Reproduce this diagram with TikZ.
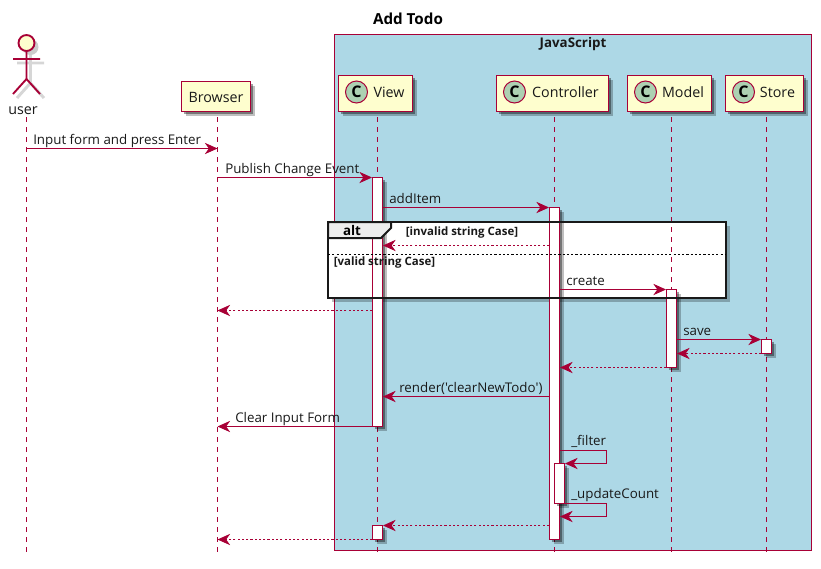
\documentclass[tikz,border=0pt]{standalone}
\usepackage{fontspec}
\setmainfont{Open Sans}
\newfontfamily\plainf{Open Sans}
\usetikzlibrary{arrows.meta,shadows,calc}
\definecolor{pu}{HTML}{A80036}
\definecolor{pufill}{HTML}{FEFECE}
\definecolor{jsblue}{HTML}{ADD8E6}
\definecolor{cfill}{HTML}{ADD1B2}
\tikzset{
  x=0.75pt,y=-0.75pt,
  softshadow/.style={drop shadow={shadow xshift=3.2pt,shadow yshift=-3.2pt,opacity=.25,fill=black},drop shadow={shadow xshift=2.2pt,shadow yshift=-2.2pt,opacity=.38,fill=black}},
  partbox/.style={draw=pu,fill=pufill,line width=1.1pt,inner sep=0pt,softshadow},
  partlabel/.style={inner sep=0pt,anchor=base,font=\fontsize{10.7pt}{12pt}\selectfont,text=black!90},
  cbadge/.style={circle,draw=pu,fill=cfill,line width=0.75pt,minimum size=16.5pt,inner sep=0pt,font=\fontsize{12pt}{12pt}\bfseries\selectfont},
  lifeline/.style={draw=pu,line width=0.75pt,dash pattern=on 3.75pt off 3.75pt},
  actbox/.style={draw=pu,fill=white,line width=0.75pt,inner sep=0pt,softshadow},
  msg/.style={draw=pu,line width=0.75pt,-{Stealth[length=9.5pt,width=8.5pt,inset=3pt,fill=pu]}},
  ret/.style={msg,dash pattern=on 1.6pt off 1.6pt},
  msglabel/.style={inner sep=0pt,anchor=base west,font=\fontsize{10pt}{12pt}\selectfont,text=black!90},
  guard/.style={inner sep=0pt,anchor=base west,font=\fontsize{8.6pt}{10pt}\bfseries\selectfont,text=black!90},
}
\newcommand{\activ}[4]{%
  \pgfmathsetlengthmacro{\aw}{10*0.75pt}%
  \pgfmathsetlengthmacro{\ah}{(#4-#3)*0.75pt}%
  \node[actbox,minimum width=\aw,minimum height=\ah] (#1) at (#2,{(#3+#4)/2}) {};}
\newcommand{\pbox}[6]{%
  \pgfmathsetlengthmacro{\aw}{(#4-#3)*0.75pt}%
  \pgfmathsetlengthmacro{\ah}{(#6-#5)*0.75pt}%
  \node[partbox,minimum width=\aw,minimum height=\ah] (#1) at ({(#3+#4)/2},{(#5+#6)/2}) {#2};}
\begin{document}
\begin{tikzpicture}
\useasboundingbox[fill=white] (0,0) rectangle (821,568);
% JavaScript box
\node[inner sep=0pt,draw=pu,fill=jsblue,line width=0.75pt,minimum width=357.75pt,minimum height=387pt] (jsbox) at (573,292.5) {};
\node[inner sep=0pt,anchor=base,font=\fontsize{10pt}{10pt}\bfseries\selectfont,text=black!90] (jstitle) at (573,47) {JavaScript};
\node[inner sep=0pt,anchor=base,font=\fontsize{11.4pt}{12pt}\bfseries\selectfont] (title) at (408,24) {Add Todo};
% lifeline anchors
\coordinate (lu) at (26.5,117);
\coordinate (lb) at (217.5,117);
\coordinate (lv) at (377.5,117);
\coordinate (lc) at (554.5,117);
\coordinate (lm) at (671.5,117);
\coordinate (ls) at (766.5,117);
% actor
\begin{scope}[shift={(4,4)},draw=black,opacity=.16,line width=2.2pt]
  \draw (26.5,51) -- (26.5,79) (13,59) -- (40,59) (13,94) -- (26.5,79) -- (40,94);
\end{scope}
\fill[black,opacity=.2] (30.5,47) circle (8);
\node[circle,draw=pu,fill=pufill,line width=1.4pt,minimum size=12pt,inner sep=0pt] (uhead) at (26.5,43) {};
\draw[pu,line width=1.4pt] (uhead.south) -- (26.5,79) (13,59) -- (40,59) (13,94) -- (26.5,79) -- (40,94);
\node[partlabel] (user) at (23,114) {user};
% participants
\pbox{browser}{}{181.5}{250.5}{81.5}{111.5}
\node[partlabel] (browsertext) at (216,102) {Browser};
\pbox{view}{}{338.5}{412.5}{75.5}{111.5}
\pbox{controller}{}{496.5}{608.5}{75.5}{111.5}
\pbox{modelb}{}{627.5}{711.5}{75.5}{111.5}
\pbox{storeb}{}{725.5}{803.5}{75.5}{111.5}
\node[cbadge] (cv) at (356.5,92) {C};
\node[cbadge] (cc) at (514.5,92) {C};
\node[cbadge] (cm) at (645.5,92) {C};
\node[cbadge] (cs) at (743.5,92) {C};
\node[partlabel] (tv) at (389,97) {View};
\node[partlabel] (tc) at (565.5,97) {Controller};
\node[partlabel] (tm) at (683,97) {Model};
\node[partlabel] (ts) at (777.5,97) {Store};
% alt frame body
\fill[black,opacity=.25] (332,226) rectangle (729.5,301.5);
\fill[white] (328,222) rectangle (725.5,298);
% lifelines
\foreach \l in {lu,lb,lv,lc,lm,ls} \draw[lifeline] (\l) -- (\l |- 0,557);
% activations
\activ{av1}{377.5}{177.5}{426.5}
\activ{ac1}{554.5}{207.5}{539.5}
\activ{am}{671.5}{289.5}{367.5}
\activ{as}{766.5}{339.5}{353.5}
\activ{ac2}{559.5}{463.5}{503.5}
\activ{av2}{377.5}{525.5}{539.5}
% alt frame
\draw[black!90,line width=1.5pt,fill=black!7] (328,222) -- (391,222) -- (391,228) -- (381,238) -- (328,238) -- cycle;
\draw[black!90,line width=1.5pt] (328,222) rectangle (725.5,298);
\draw[black,line width=0.75pt,dash pattern=on 1.6pt off 1.6pt] (328,254.5) -- (725.5,254.5);
\node[inner sep=0pt,anchor=base,font=\fontsize{10pt}{10pt}\bfseries\selectfont] (alt) at (352,235) {alt};
\node[guard] (g1) at (405.5,235) {[invalid string Case]};
\node[guard] (g2) at (333.5,265) {[valid string Case]};
% messages
\draw[msg] (lu |- 0,148.5) -- (lb |- 0,148.5);
\node[msglabel] (m1) at (33,144) {Input form and press Enter};
\draw[msg] (lb |- 0,177.5) -- (av1.west |- 0,177.5);
\node[msglabel] (m2) at (225,173) {Publish Change Event};
\draw[msg] (av1.east |- 0,207.5) -- (ac1.west |- 0,207.5);
\node[msglabel] (m3) at (389,203) {addItem};
\draw[ret] (ac1.west |- 0,245.5) -- (av1.east |- 0,245.5);
\draw[msg] (ac1.east |- 0,289.5) -- (am.west |- 0,289.5);
\node[msglabel] (m4) at (566,285) {create};
\draw[ret] (av1.west |- 0,310.5) -- (lb |- 0,310.5);
\draw[msg] (am.east |- 0,339.5) -- (as.west |- 0,339.5);
\node[msglabel] (m5) at (683,335) {save};
\draw[ret] (as.west |- 0,353.5) -- (am.east |- 0,353.5);
\draw[ret] (am.west |- 0,367.5) -- (ac1.east |- 0,367.5);
\draw[msg] (ac1.west |- 0,396.5) -- (av1.east |- 0,396.5);
\node[msglabel] (m6) at (399,392) {\plainf render('clearNewTodo')};
\draw[msg] (av1.west |- 0,426.5) -- (lb |- 0,426.5);
\node[msglabel] (m7) at (235,422) {Clear Input Form};
\coordinate (sf) at (606.5,450.5);
\draw[msg] (ac1.east |- sf) -- (sf) -- (606.5,463.5) -- (ac2.east |- 0,463.5);
\node[msglabel] (m8) at (571,445) {\_filter};
\coordinate (su) at (606.5,503.5);
\draw[msg] (ac2.east |- su) -- (su) -- (606.5,516.5) -- (ac1.east |- 0,516.5);
\node[msglabel] (m9) at (571,498) {\_updateCount};
\draw[ret] (ac1.west |- 0,525.5) -- (av2.east |- 0,525.5);
\draw[ret] (av2.west |- 0,539.5) -- (lb |- 0,539.5);
\end{tikzpicture}
\end{document}
